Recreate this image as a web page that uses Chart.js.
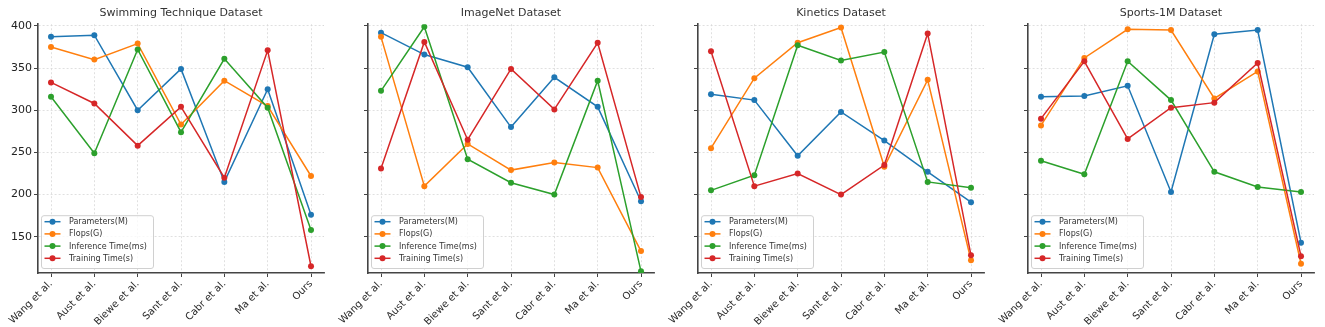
<!DOCTYPE html>
<html>
<head>
<meta charset="utf-8">
<script src="https://cdn.jsdelivr.net/npm/chart.js@4.4.1/dist/chart.umd.min.js"></script>
<style>
    html, body { margin: 0; padding: 0; background: #fff; }
    #row { display: flex; width: 1325px; height: 327px; }
    #row canvas { display: block; }
</style>
</head>
<body>
<div id="row">
    <canvas id="c0" width="330" height="327"></canvas>
    <canvas id="c1" width="330" height="327"></canvas>
    <canvas id="c2" width="330" height="327"></canvas>
    <canvas id="c3" width="330" height="327"></canvas>
</div>
<script>
// ---- data ----
const methods = ["Wang et al.", "Aust et al.", "Biewe et al.", "Sant et al.", "Cabr et al.", "Ma et al.", "Ours"];
const panelTitles = ["Swimming Technique Dataset", "ImageNet Dataset", "Kinetics Dataset", "Sports-1M Dataset"];
const seriesNames = ["Parameters(M)", "Flops(G)", "Inference Time(ms)", "Training Time(s)"];
const yTicks = [150, 200, 250, 300, 350, 400];

const swimParams = [387, 389, 300, 349, 215, 325, 176];
const swimFlops  = [375, 360, 379, 283, 335, 305, 222];
const swimInfer  = [316, 249, 372, 274, 361, 303, 158];
const swimTrain  = [333, 308, 258, 304, 220, 371, 115];

const imgParams = [392, 366, 351, 280, 339, 304, 192];
const imgFlops  = [387, 210, 260, 229, 238, 232, 133];
const imgInfer  = [323, 399, 242, 214, 200, 335, 109];
const imgTrain  = [231, 381, 265, 349, 301, 380, 197];

const kinParams = [319, 312, 246, 298, 264, 227, 191];
const kinFlops  = [255, 338, 380, 398, 233, 336, 122];
const kinInfer  = [205, 223, 377, 359, 369, 215, 208];
const kinTrain  = [370, 210, 225, 200, 235, 391, 128];

const sptParams = [316, 317, 329, 203, 390, 395, 143];
const sptFlops  = [282, 362, 396, 395, 314, 346, 118];
const sptInfer  = [240, 224, 358, 312, 227, 209, 203];
const sptTrain  = [290, 358, 266, 303, 309, 356, 127];

const panels = [
    [swimParams, swimFlops, swimInfer, swimTrain],
    [imgParams, imgFlops, imgInfer, imgTrain],
    [kinParams, kinFlops, kinInfer, kinTrain],
    [sptParams, sptFlops, sptInfer, sptTrain]
];

const colors = ["#1f77b4", "#ff7f0e", "#2ca02c", "#d62728"];
const FONT = "'DejaVu Sans', sans-serif";

// matplotlib-style legend, lower-left inside the axes
const innerLegend = {
    id: "innerLegend",
    afterDraw(chart) {
        const ctx = chart.ctx;
        const area = chart.chartArea;
        const sets = chart.data.datasets;
        const boxX = area.left + 3.5;
        const boxW = 112;
        const rowH = 12.2;
        const boxH = rowH * sets.length + 4;
        const boxY = area.bottom - 4.5 - boxH;

        ctx.save();
        ctx.fillStyle = "rgba(255,255,255,0.8)";
        ctx.strokeStyle = "#d0d0d0";
        ctx.lineWidth = 1;
        ctx.beginPath();
        ctx.roundRect(boxX, boxY, boxW, boxH, 2.5);
        ctx.fill();
        ctx.stroke();

        ctx.font = "8px " + FONT;
        ctx.textBaseline = "middle";
        ctx.textAlign = "left";
        sets.forEach((ds, i) => {
            const cy = boxY + 6 + i * rowH;
            ctx.strokeStyle = ds.borderColor;
            ctx.lineWidth = 1.5;
            ctx.beginPath();
            ctx.moveTo(boxX + 3, cy);
            ctx.lineTo(boxX + 19, cy);
            ctx.stroke();
            ctx.fillStyle = ds.borderColor;
            ctx.beginPath();
            ctx.arc(boxX + 11, cy, 3, 0, Math.PI * 2);
            ctx.fill();
            ctx.fillStyle = "#333";
            ctx.fillText(ds.label, boxX + 27.5, cy + 0.5);
        });
        ctx.restore();
    }
};

function buildChart(idx) {
    const ctx = document.getElementById("c" + idx).getContext("2d");
    const datasets = panels[idx].map((vals, s) => ({
        label: seriesNames[s],
        data: vals.map((v, i) => ({ x: i, y: v })),
        borderColor: colors[s],
        backgroundColor: colors[s],
        borderWidth: 1.5,
        pointRadius: 3,
        pointHoverRadius: 3,
        pointBorderWidth: 0,
        tension: 0,
        order: 3 - s
    }));

    return new Chart(ctx, {
        type: "line",
        data: { datasets },
        plugins: [innerLegend],
        options: {
            responsive: false,
            animation: false,
            events: [],
            layout: { padding: { left: 0, right: 6, top: 0, bottom: 0 } },
            plugins: {
                legend: { display: false },
                tooltip: { enabled: false },
                title: {
                    display: true,
                    fullSize: false,
                    text: panelTitles[idx],
                    font: { family: FONT, size: 11, weight: "normal" },
                    color: "#333",
                    padding: { top: 7, bottom: 4 }
                }
            },
            scales: {
                x: {
                    type: "linear",
                    min: -0.3,
                    max: 6.3,
                    afterBuildTicks: s => { s.ticks = methods.map((m, i) => ({ value: i })); },
                    afterFit: s => { s.height = 54; },
                    ticks: {
                        callback: v => methods[v],
                        autoSkip: false,
                        maxRotation: 45,
                        minRotation: 45,
                        padding: 1,
                        font: { family: FONT, size: 10 },
                        color: "#2a2a2a"
                    },
                    grid: {
                        color: "#d9d9d9",
                        lineWidth: 0.8,
                        tickLength: 4,
                        tickColor: "#444",
                        tickWidth: 1,
                        tickBorderDash: []
                    },
                    border: { display: true, color: "#444", width: 1.6, dash: [2, 2] }
                },
                y: {
                    type: "linear",
                    min: 107,
                    max: 402,
                    afterBuildTicks: s => { s.ticks = yTicks.map(v => ({ value: v })); },
                    afterFit: s => { s.width = 38; },
                    ticks: {
                        callback: v => (idx === 0 ? String(v) : ""),
                        padding: 2,
                        font: { family: FONT, size: 11 },
                        color: "#222"
                    },
                    grid: {
                        color: "#d9d9d9",
                        lineWidth: 0.8,
                        tickLength: 4,
                        tickColor: "#444",
                        tickWidth: 1,
                        tickBorderDash: []
                    },
                    border: { display: true, color: "#444", width: 1.6, dash: [2, 2] }
                }
            }
        }
    });
}

panels.forEach((_, i) => buildChart(i));
</script>
</body>
</html>
